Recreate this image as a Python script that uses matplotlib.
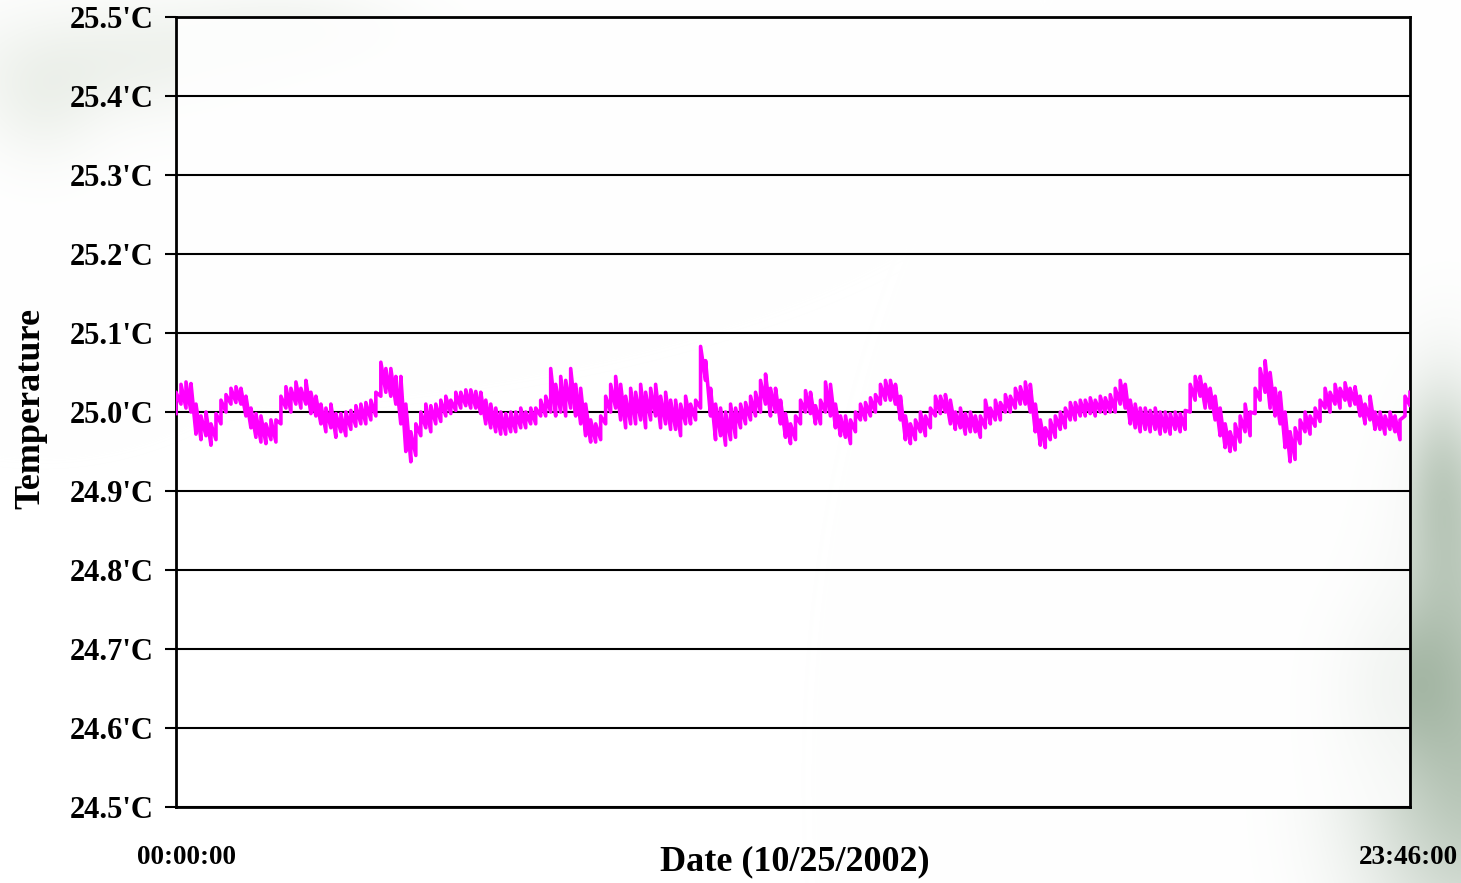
import numpy as np
import pandas as pd
import matplotlib.pyplot as plt

# Logger readings for 10/25/2002: min and max per sampling interval
temp_high = [
    25.025, 25.035, 25.038, 25.036, 25.010, 24.995, 25.000, 24.985, 24.998, 25.015,
    25.022, 25.030, 25.032, 25.030, 25.020, 25.005, 24.998, 24.995, 24.985, 24.990,
    24.990, 25.020, 25.032, 25.030, 25.038, 25.030, 25.040, 25.025, 25.020, 25.010,
    25.005, 25.010, 24.998, 24.998, 25.000, 25.002, 25.008, 25.010, 25.012, 25.015,
    25.025, 25.063, 25.055, 25.055, 25.045, 25.045, 25.010, 24.975, 24.985, 25.000,
    25.010, 25.008, 25.010, 25.015, 25.020, 25.015, 25.025, 25.025, 25.028, 25.028,
    25.026, 25.025, 25.015, 25.010, 25.005, 25.000, 24.998, 25.000, 25.000, 25.005,
    25.000, 25.005, 25.005, 25.015, 25.020, 25.055, 25.035, 25.045, 25.040, 25.055,
    25.035, 25.030, 25.010, 24.990, 24.985, 24.995, 25.020, 25.035, 25.045, 25.035,
    25.020, 25.030, 25.025, 25.035, 25.025, 25.030, 25.035, 25.020, 25.025, 25.015,
    25.015, 25.010, 25.020, 25.010, 25.015, 25.083, 25.065, 25.030, 25.010, 25.005,
    25.000, 25.010, 25.005, 25.010, 25.012, 25.020, 25.025, 25.040, 25.048, 25.030,
    25.030, 25.015, 24.998, 24.985, 24.995, 25.015, 25.027, 25.025, 25.008, 25.015,
    25.038, 25.035, 25.010, 24.995, 24.995, 24.990, 25.000, 25.010, 25.012, 25.018,
    25.022, 25.035, 25.040, 25.040, 25.035, 25.020, 24.995, 24.985, 24.990, 25.000,
    24.995, 25.005, 25.020, 25.020, 25.022, 25.015, 25.000, 25.005, 24.998, 25.000,
    24.995, 24.995, 25.015, 25.005, 25.015, 25.012, 25.022, 25.020, 25.030, 25.032,
    25.038, 25.035, 25.010, 24.990, 24.980, 24.990, 24.995, 25.000, 25.005, 25.012,
    25.012, 25.015, 25.015, 25.018, 25.015, 25.020, 25.018, 25.022, 25.030, 25.040,
    25.035, 25.015, 25.010, 25.005, 25.005, 25.002, 25.005, 25.000, 25.000, 24.998,
    25.000, 24.998, 25.002, 25.035, 25.045, 25.045, 25.035, 25.030, 25.020, 25.005,
    24.985, 24.975, 24.985, 24.995, 25.010, 25.000, 25.030, 25.055, 25.065, 25.050,
    25.030, 25.025, 25.000, 24.975, 24.980, 24.990, 25.000, 24.995, 25.005, 25.015,
    25.030, 25.025, 25.035, 25.030, 25.037, 25.030, 25.032, 25.020, 25.010, 25.020,
    25.000, 25.000, 24.995, 25.000, 24.995, 24.990, 25.020, 25.025,
]
temp_low = [
    24.998, 25.010, 25.005, 25.000, 24.972, 24.965, 24.970, 24.958, 24.965, 24.985,
    25.000, 25.010, 25.012, 25.010, 24.995, 24.980, 24.968, 24.962, 24.960, 24.965,
    24.962, 24.985, 25.005, 25.000, 25.010, 25.005, 25.010, 24.998, 24.995, 24.985,
    24.975, 24.980, 24.968, 24.975, 24.970, 24.978, 24.982, 24.985, 24.985, 24.990,
    24.995, 25.020, 25.025, 25.020, 25.010, 24.985, 24.950, 24.937, 24.945, 24.970,
    24.980, 24.975, 24.985, 24.988, 24.995, 24.998, 25.002, 25.005, 25.008, 25.005,
    25.005, 24.998, 24.985, 24.980, 24.975, 24.972, 24.972, 24.975, 24.975, 24.980,
    24.980, 24.985, 24.985, 24.995, 24.995, 25.000, 24.995, 25.000, 24.995, 25.005,
    24.995, 24.985, 24.970, 24.962, 24.962, 24.965, 24.985, 25.000, 25.005, 24.990,
    24.980, 24.985, 24.985, 24.990, 24.980, 24.990, 24.995, 24.980, 24.985, 24.978,
    24.978, 24.970, 24.985, 24.985, 24.990, 25.005, 25.040, 24.995, 24.965, 24.970,
    24.958, 24.965, 24.968, 24.980, 24.985, 24.990, 24.995, 25.000, 25.010, 24.995,
    25.000, 24.985, 24.968, 24.960, 24.965, 24.985, 25.000, 24.998, 24.985, 24.985,
    25.000, 24.995, 24.980, 24.970, 24.968, 24.960, 24.975, 24.990, 24.990, 24.995,
    25.000, 25.010, 25.015, 25.015, 25.010, 24.990, 24.965, 24.960, 24.965, 24.975,
    24.970, 24.980, 24.995, 24.998, 25.000, 24.985, 24.978, 24.980, 24.972, 24.975,
    24.975, 24.968, 24.980, 24.985, 24.990, 24.990, 25.000, 25.000, 25.005, 25.010,
    25.010, 25.000, 24.975, 24.958, 24.955, 24.965, 24.968, 24.978, 24.980, 24.990,
    24.990, 24.995, 24.995, 24.998, 24.995, 25.000, 24.998, 25.000, 25.000, 25.010,
    25.005, 24.985, 24.980, 24.975, 24.978, 24.975, 24.978, 24.972, 24.975, 24.972,
    24.978, 24.975, 24.978, 25.000, 25.015, 25.020, 25.005, 25.005, 24.990, 24.970,
    24.955, 24.950, 24.952, 24.962, 24.975, 24.970, 24.998, 25.015, 25.025, 25.005,
    24.995, 24.985, 24.955, 24.937, 24.940, 24.960, 24.975, 24.972, 24.982, 24.988,
    25.005, 25.000, 25.010, 25.005, 25.015, 25.008, 25.010, 24.995, 24.985, 24.990,
    24.978, 24.978, 24.972, 24.978, 24.975, 24.965, 24.995, 25.008,
]
start, end = '2002-10-25 00:00:00', '2002-10-25 23:46:00'
y_ticks = [24.5, 24.6, 24.7, 24.8, 24.9, 25.0, 25.1, 25.2, 25.3, 25.4, 25.5]

times = pd.date_range(start, end, periods=len(temp_high))

# min/max envelope as one path: low -> high at each interval, then on to the next
path_t = np.repeat(times.values, 2)
path_v = np.column_stack([temp_low, temp_high]).ravel()

plt.rcParams['font.family'] = ['Liberation Serif', 'DejaVu Serif']
plt.rcParams['font.weight'] = 'bold'

W, H = 1461, 883
fig = plt.figure(figsize=(W / 100, H / 100), dpi=100)

# soft greenish backdrop in two corners
yy, xx = np.mgrid[0:H, 0:W]
def blob(cx, cy, sx, sy):
    return np.exp(-(((xx - cx) / sx) ** 2 + ((yy - cy) / sy) ** 2))
shade = np.clip(0.30 * blob(120, 60, 160, 60) + 0.22 * blob(300, 30, 110, 40)
                + 0.20 * blob(40, 110, 60, 60), 0, 1)
dark = np.clip(0.65 * blob(1470, 780, 110, 170) + 0.45 * blob(1450, 560, 70, 150)
               + 0.40 * blob(1390, 680, 60, 80) + 0.30 * blob(1440, 470, 40, 90), 0, 1)
bg = np.ones((H, W, 3))
for c, a in [((0.80, 0.84, 0.78), shade), ((0.60, 0.68, 0.60), dark)]:
    bg = bg * (1 - a[..., None]) + np.array(c) * a[..., None]
fig.figimage(bg, 0, 0, origin='upper', zorder=-10)

ax = fig.add_axes([176 / W, 1 - 807 / H, 1234 / W, 790 / H])
ax.set_facecolor('white')
ax.patch.set_alpha(0.85)

ax.plot(path_t, path_v, color='#ff00ff', lw=2.6, zorder=3)

ax.set_ylim(24.5, 25.5)
ax.set_yticks(y_ticks)
ax.set_yticklabels([f"{v:.1f}'C" for v in y_ticks], fontsize=22, fontweight='bold')
ax.yaxis.grid(True, color='black', lw=1.5, zorder=1)
ax.tick_params(axis='y', length=8, width=1.5, pad=8, colors='black')

ax.set_xlim(times[0], times[-1])
ax.set_xticks([])

for s in ax.spines.values():
    s.set_color('black')
    s.set_linewidth(2)

fig.text(186 / W, 1 - 857 / H, '00:00:00', ha='center', va='center', fontsize=19.5, fontweight='bold')
fig.text(1408 / W, 1 - 857 / H, '23:46:00', ha='center', va='center', fontsize=19.5, fontweight='bold')
fig.text(31 / W, 1 - 409 / H, 'Temperature', rotation=90, ha='center', va='center',
         fontsize=26, fontweight='bold')
fig.text(795 / W, 1 - 862 / H, 'Date (10/25/2002)', ha='center', va='center',
         fontsize=26, fontweight='bold')

fig.savefig('out.png', dpi=100)
